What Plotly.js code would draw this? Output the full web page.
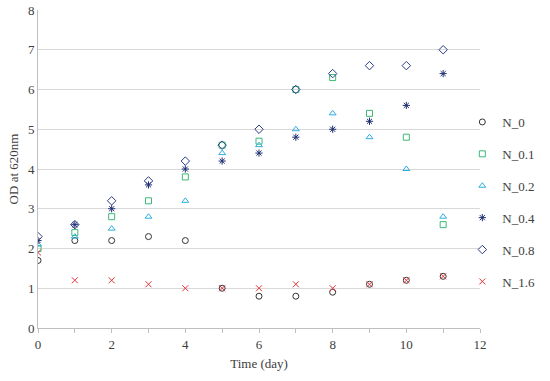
<!DOCTYPE html>
<html>
<head>
<meta charset="utf-8">
<script src="https://cdn.plot.ly/plotly-3.0.1.min.js"></script>
<style>html,body{margin:0;padding:0;background:#fff;}#chart{width:550px;height:381px;}</style>
</head>
<body>
<div id="chart"></div>
<script>
const days = [0, 1, 2, 3, 4, 5, 6, 7, 8, 9, 10, 11];
const seriesNames = ["N_0", "N_0.1", "N_0.2", "N_0.4", "N_0.8", "N_1.6"];
const N_0   = [1.7, 2.2, 2.2, 2.3, 2.2, 1.0, 0.8, 0.8, 0.9, 1.1, 1.2, 1.3];
const N_0_1 = [2.0, 2.4, 2.8, 3.2, 3.8, 4.6, 4.7, 6.0, 6.3, 5.4, 4.8, 2.6];
const N_0_2 = [2.1, 2.3, 2.5, 2.8, 3.2, 4.4, 4.6, 5.0, 5.4, 4.8, 4.0, 2.8];
const N_0_4 = [2.2, 2.6, 3.0, 3.6, 4.0, 4.2, 4.4, 4.8, 5.0, 5.2, 5.6, 6.4];
const N_0_8 = [2.3, 2.6, 3.2, 3.7, 4.2, 4.6, 5.0, 6.0, 6.4, 6.6, 6.6, 7.0];
const N_1_6 = [1.9, 1.2, 1.2, 1.1, 1.0, 1.0, 1.0, 1.1, 1.0, 1.1, 1.2, 1.3];
const xTicks = [0, 2, 4, 6, 8, 10, 12];
const yTicks = [0, 1, 2, 3, 4, 5, 6, 7, 8];

const values = [N_0, N_0_1, N_0_2, N_0_4, N_0_8, N_1_6];
const colors = ["#333333", "#3cb878", "#2eaee0", "#1f2f73", "#2a3a86", "#e0353a"];
const symbols = ["circle-open", "square-open", "triangle-up-open", "asterisk-open", "diamond-open", "x-thin-open"];
const sizes = [6, 6, 6, 6, 6.5, 6];

const traces = values.map((v, i) => ({
  x: days, y: v, name: seriesNames[i], type: "scatter", mode: "markers",
  legendgroup: "g" + i,
  marker: {symbol: symbols[i], color: colors[i], size: sizes[i], line: {width: 1, color: colors[i]}}
}));

const fam = "'Liberation Serif', 'Times New Roman', serif";
const layout = {
  width: 550, height: 381,
  margin: {l: 38, r: 67, t: 10, b: 53},
  paper_bgcolor: "#fff", plot_bgcolor: "#fff",
  font: {family: fam, color: "#404040", size: 13},
  showlegend: true,
  legend: {x: 0.96, xanchor: "left", y: 0.695, yanchor: "top", traceorder: "grouped", tracegroupgap: 12,
           font: {family: fam, size: 13, color: "#404040"}, bgcolor: "rgba(0,0,0,0)"},
  xaxis: {range: [0, 12], tickvals: xTicks, showgrid: false, zeroline: false,
          showline: true, linecolor: "#bfbfbf", linewidth: 1,
          ticks: "outside", ticklen: 4, tickcolor: "#bfbfbf",
          minor: {dtick: 1, ticks: "outside", ticklen: 4, tickcolor: "#bfbfbf", showgrid: false},
          title: {text: "Time (day)", font: {family: fam, size: 13, color: "#404040"}, standoff: 8},
          tickfont: {family: fam, size: 13, color: "#404040"}},
  yaxis: {range: [0, 8], tickvals: yTicks, showgrid: true, gridcolor: "#d9d9d9", gridwidth: 1, zeroline: false,
          showline: true, linecolor: "#bfbfbf", linewidth: 1, ticks: "",
          title: {text: "OD at 620nm", font: {family: fam, size: 13, color: "#404040"}, standoff: 6},
          tickfont: {family: fam, size: 13, color: "#404040"}}
};
Plotly.newPlot("chart", traces, layout, {displayModeBar: false, staticPlot: true});
</script>
</body>
</html>
